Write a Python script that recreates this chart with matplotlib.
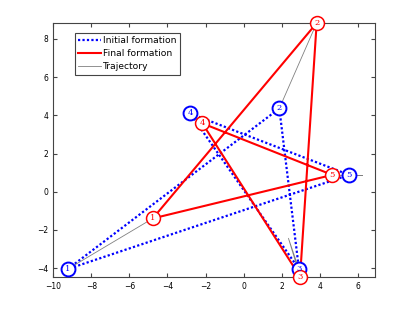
import numpy as np
import matplotlib
matplotlib.use("Agg")
import matplotlib.pyplot as plt

# agent positions
labels = ["1", "2", "3", "4", "5"]
init_x = [-9.23, 1.87, 2.90, -2.81, 5.53]
init_y = [-4.05, 4.36, -4.05, 4.10, 0.88]
final_x = [-4.77, 3.83, 2.96, -2.17, 4.65]
final_y = [-1.40, 8.83, -4.45, 3.58, 0.88]
# star edges 1-2-3-4-5-1
order = [0, 1, 2, 3, 4, 0]
# trajectories (start, turning points, end)
traj_x = [[-9.23, -4.77], [1.87, 3.83], [2.90, 2.35, 2.96], [-2.81, -2.17], [5.53, 6.2, 4.65]]
traj_y = [[-4.05, -1.40], [4.36, 8.83], [-4.05, -2.44, -4.45], [4.10, 3.58], [0.88, 0.88, 0.88]]

fig = plt.figure(figsize=(4.15, 3.12), dpi=100)
ax = fig.add_axes([0.128, 0.112, 0.776, 0.814])

ix = np.array(init_x)
iy = np.array(init_y)
fx = np.array(final_x)
fy = np.array(final_y)

ax.plot(ix[order], iy[order], linestyle=(0, (1, 1)), color="blue", lw=1.6,
        label="Initial formation")
ax.plot(fx[order], fy[order], '-', color="red", lw=1.5, label="Final formation")
for k, (tx, ty) in enumerate(zip(traj_x, traj_y)):
    ax.plot(tx, ty, '-', color="gray", lw=0.6, label="Trajectory" if k == 0 else None)

# numbered markers
for x, y, s in zip(ix, iy, labels):
    ax.plot(x, y, 'o', ms=10, mfc="white", mec="blue", mew=1.4, zorder=5)
    ax.text(x, y, s, color="blue", fontsize=6, family="DejaVu Serif",
            ha="center", va="center", zorder=6)
for x, y, s in zip(fx, fy, labels):
    ax.plot(x, y, 'o', ms=10, mfc="white", mec="red", mew=1.1, zorder=5, clip_on=False)
    ax.text(x, y, s, color="red", fontsize=6, family="DejaVu Serif",
            ha="center", va="center", zorder=6)

ax.set_xlim(-10, 6.9)
ax.set_ylim(-4.47, 8.83)
ax.set_xticks(np.arange(-10, 7, 2))
ax.set_yticks(np.arange(-4, 9, 2))
ax.tick_params(direction="in", top=True, right=True, labelsize=5.5, length=3,
               colors="#444444", labelcolor="black")
for sp in ax.spines.values():
    sp.set_color("#444444")
    sp.set_linewidth(0.8)

leg = ax.legend(loc="upper left", bbox_to_anchor=(0.068, 0.961), borderaxespad=0,
                fontsize=6.6, fancybox=False, framealpha=1, edgecolor="#444444",
                handlelength=2.5, handletextpad=0.25, borderpad=0.35, labelspacing=0.45)
leg.get_frame().set_linewidth(0.8)

fig.savefig("out.png", dpi=100)
